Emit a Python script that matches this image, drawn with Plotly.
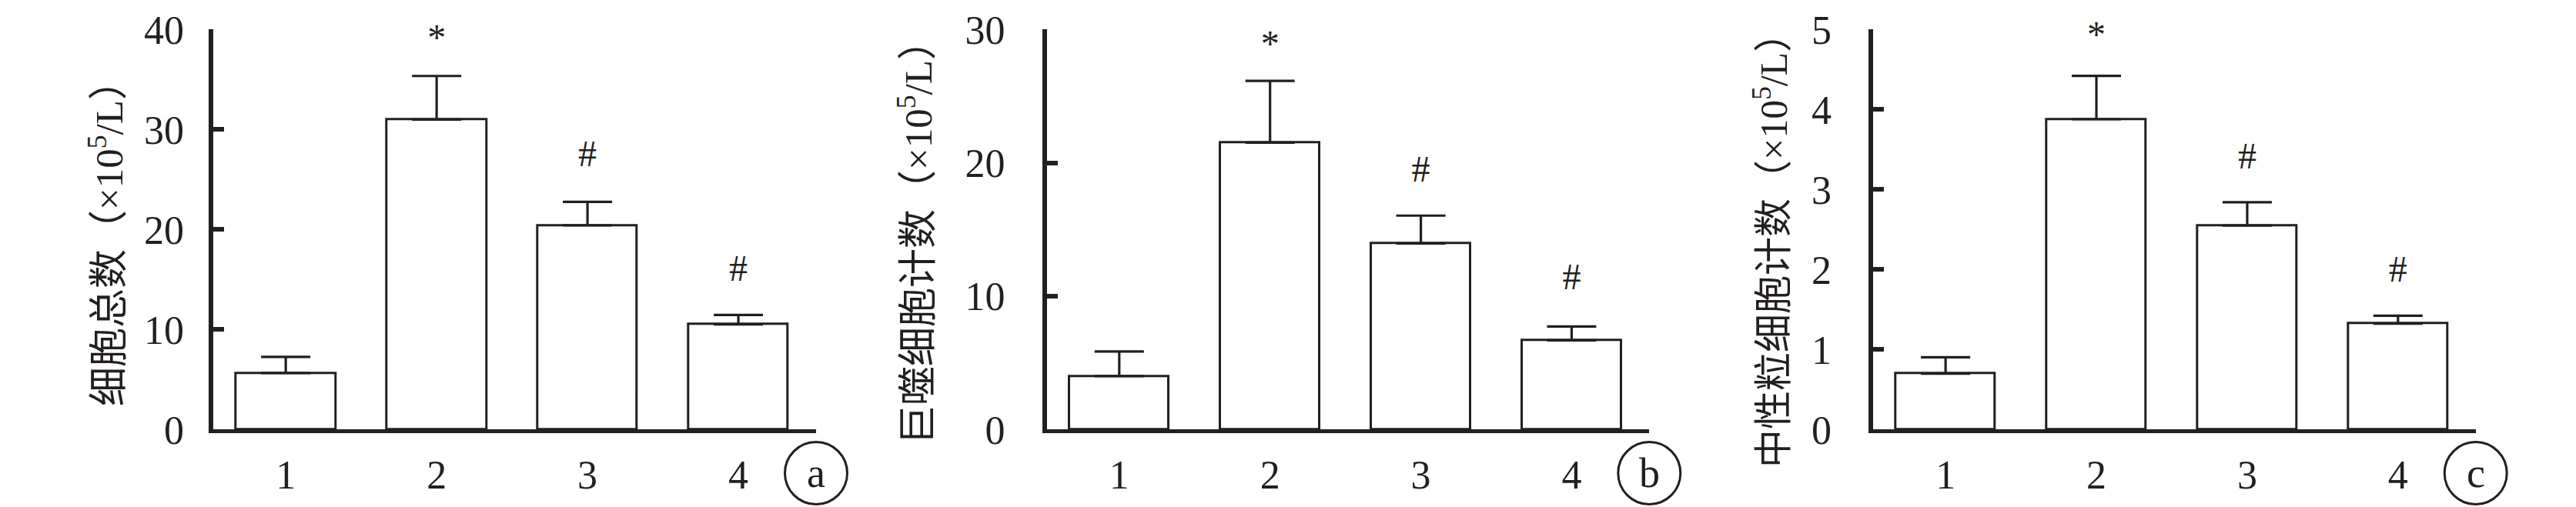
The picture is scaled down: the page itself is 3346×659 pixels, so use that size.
import plotly.graph_objects as go

W, H = 3346, 659
INK = "#231f20"
SERIF = "Liberation Serif, Noto Sans CJK SC, serif"

# ---- data ----
groups = [1, 2, 3, 4]
group_labels = ["1", "2", "3", "4"]

total_mean = [5.65, 31.0, 20.42, 10.52]
total_err = [1.61, 4.35, 2.35, 0.93]

macro_mean = [4.0, 21.52, 13.96, 6.69]
macro_err = [1.85, 4.63, 2.08, 1.04]

neut_mean = [0.698, 3.878, 2.55, 1.323]
neut_err = [0.206, 0.542, 0.29, 0.10]

sig_marks = ["", "*", "#", "#"]
total_sig_y = [None, 38.9, 27.26, 15.8]
macro_sig_y = [None, 28.7, 19.3, 11.2]
neut_sig_y = [None, 4.9, 3.38, 1.96]

y_titles = ["细胞总数（×10<sup>5</sup>/L）",
            "巨噬细胞计数（×10<sup>5</sup>/L）",
            "中性粒细胞计数（×10<sup>5</sup>/L）"]
y_max = [40, 30, 5]
y_dtick = [10, 10, 1]
panel_letters = ["a", "b", "c"]

means = [total_mean, macro_mean, neut_mean]
errs = [total_err, macro_err, neut_err]
sig_ys = [total_sig_y, macro_sig_y, neut_sig_y]

# ---- layout geometry (page pixels; page body adds an 8 px margin) ----
OFF = 8
x_dom_px = [(277.3, 1060.0), (1360.0, 2142.3), (2433.3, 3215.7)]
y_top_px, y_bot_px = 38.3, 558.3
title_pos_px = [(138, 304), (1189, 303), (2301, 313)]
title_size = [51, 51, 50]
label_standoff = [22, 38, 38]
circle_r = 40.5
circle_cy = 615


def px(x):
    return (x - OFF) / W


def py(y):
    return 1 - (y - OFF) / H


fig = go.Figure()
shapes = []
annotations = []

for i in range(3):
    n = "" if i == 0 else str(i + 1)
    xa, ya = "x" + n, "y" + n
    fig.add_trace(go.Bar(
        x=groups, y=means[i], xaxis=xa, yaxis=ya, width=0.66,
        marker=dict(color="white", line=dict(color=INK, width=3)),
        error_y=dict(type="data", symmetric=False, array=errs[i],
                     arrayminus=[0] * 4, color=INK, thickness=3.2, width=32),
        showlegend=False, hoverinfo="skip",
    ))
    keep = [k for k, m in enumerate(sig_marks) if m]
    fig.add_trace(go.Scatter(
        x=[groups[k] for k in keep], y=[sig_ys[i][k] for k in keep],
        text=[sig_marks[k] for k in keep], mode="text", xaxis=xa, yaxis=ya,
        textposition="middle center", cliponaxis=False,
        textfont=dict(family=SERIF, size=48, color=INK),
        showlegend=False, hoverinfo="skip",
    ))
    x0, x1 = x_dom_px[i]
    fig.layout["xaxis" + n] = dict(
        domain=[px(x0), px(x1)], range=[0.521, 4.515], anchor=ya,
        tickvals=groups, ticktext=group_labels, ticks="", automargin=False,
        showline=True, linewidth=5, linecolor=INK,
        showgrid=False, zeroline=False, ticklabelstandoff=9,
        tickfont=dict(family=SERIF, size=52, color=INK),
    )
    fig.layout["yaxis" + n] = dict(
        domain=[py(y_bot_px), py(y_top_px)], range=[0, y_max[i]], dtick=y_dtick[i],
        anchor=xa, ticks="inside", ticklen=14, tickwidth=6, tickcolor=INK,
        showline=True, linewidth=6, linecolor=INK, automargin=False,
        showgrid=False, zeroline=False, ticklabelstandoff=label_standoff[i],
        tickfont=dict(family=SERIF, size=52, color=INK),
    )
    tx, ty = title_pos_px[i]
    annotations.append(dict(
        x=px(tx), y=py(ty), xref="paper", yref="paper", text=y_titles[i],
        textangle=-90, showarrow=False, xanchor="center", yanchor="middle",
        font=dict(family=SERIF, size=title_size[i], color=INK),
    ))
    cx = x1
    shapes.append(dict(
        type="circle", xref="paper", yref="paper",
        x0=px(cx - circle_r), x1=px(cx + circle_r),
        y0=py(circle_cy + circle_r), y1=py(circle_cy - circle_r),
        line=dict(color=INK, width=3),
    ))
    annotations.append(dict(
        x=px(cx), y=py(circle_cy), xref="paper", yref="paper", text=panel_letters[i],
        showarrow=False, xanchor="center", yanchor="middle",
        font=dict(family=SERIF, size=54, color=INK),
    ))

fig.update_layout(
    width=W, height=H, margin=dict(l=0, r=0, t=0, b=0, autoexpand=False),
    paper_bgcolor="white", plot_bgcolor="white",
    shapes=shapes, annotations=annotations, bargap=0,
)

fig.write_html("out.html")
